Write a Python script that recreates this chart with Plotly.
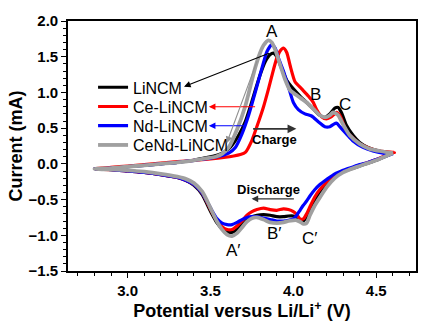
import plotly.graph_objects as go

# ---------------- data ----------------
series_names = ["LiNCM", "Ce-LiNCM", "Nd-LiNCM", "CeNd-LiNCM"]
series_colors = ["#000000", "#ff0000", "#0000ff", "#a0a0a0"]

# charge (anodic) branches
black_up_x = [2.80, 2.90, 3.00, 3.10, 3.20, 3.30, 3.40, 3.46, 3.52, 3.56, 3.60, 3.63, 3.67, 3.71, 3.74, 3.77,
              3.80, 3.83, 3.86, 3.88, 3.90, 3.93, 3.96, 4.00, 4.04, 4.08, 4.12, 4.16, 4.19, 4.22, 4.25, 4.27,
              4.29, 4.32, 4.36, 4.40, 4.45, 4.50, 4.55, 4.60]
black_up_y = [-0.07, -0.06, -0.04, -0.02, 0.00, 0.02, 0.05, 0.08, 0.11, 0.14, 0.19, 0.26, 0.40, 0.59, 0.80, 1.03,
              1.25, 1.43, 1.53, 1.55, 1.50, 1.33, 1.17, 1.05, 0.95, 0.86, 0.77, 0.68, 0.65, 0.70, 0.78, 0.79,
              0.72, 0.54, 0.40, 0.30, 0.23, 0.19, 0.16, 0.15]

red_up_x = [2.80, 2.90, 3.00, 3.10, 3.20, 3.30, 3.40, 3.50, 3.58, 3.64, 3.68, 3.71, 3.75, 3.79, 3.82, 3.85,
            3.88, 3.90, 3.92, 3.94, 3.96, 3.98, 4.01, 4.05, 4.09, 4.12, 4.14, 4.17, 4.20, 4.23, 4.26, 4.28,
            4.32, 4.36, 4.40, 4.46, 4.52, 4.56, 4.61]
red_up_y = [-0.07, -0.05, -0.03, -0.01, 0.01, 0.03, 0.05, 0.07, 0.09, 0.11, 0.13, 0.16, 0.33, 0.59, 0.80, 1.05,
            1.32, 1.48, 1.58, 1.62, 1.56, 1.38, 1.15, 1.05, 0.95, 0.86, 0.76, 0.66, 0.63, 0.66, 0.72, 0.68,
            0.46, 0.36, 0.28, 0.22, 0.18, 0.17, 0.16]

blue_up_x = [2.80, 2.90, 3.00, 3.10, 3.20, 3.30, 3.40, 3.50, 3.56, 3.61, 3.65, 3.69, 3.73, 3.76, 3.79, 3.82,
             3.84, 3.87, 3.89, 3.91, 3.94, 3.97, 4.00, 4.03, 4.07, 4.11, 4.15, 4.19, 4.22, 4.24, 4.26, 4.28,
             4.32, 4.36, 4.42, 4.48, 4.54, 4.60]
blue_up_y = [-0.07, -0.06, -0.04, -0.02, 0.00, 0.02, 0.05, 0.08, 0.11, 0.15, 0.23, 0.42, 0.68, 0.92, 1.17, 1.42,
             1.57, 1.67, 1.62, 1.48, 1.30, 1.08, 0.86, 0.76, 0.70, 0.67, 0.59, 0.52, 0.52, 0.55, 0.57, 0.52,
             0.42, 0.32, 0.23, 0.18, 0.15, 0.14]

gray_up_x = [2.80, 2.90, 3.00, 3.10, 3.20, 3.30, 3.40, 3.48, 3.53, 3.57, 3.61, 3.66, 3.71, 3.74, 3.77, 3.80,
             3.82, 3.85, 3.87, 3.89, 3.92, 3.95, 3.98, 4.02, 4.05, 4.08, 4.12, 4.16, 4.19, 4.22, 4.24, 4.27,
             4.30, 4.34, 4.40, 4.46, 4.52, 4.60]
gray_up_y = [-0.07, -0.06, -0.04, -0.02, 0.00, 0.02, 0.05, 0.08, 0.10, 0.14, 0.23, 0.48, 0.81, 1.08, 1.35, 1.56,
             1.66, 1.73, 1.70, 1.60, 1.39, 1.18, 1.03, 0.96, 0.91, 0.86, 0.77, 0.68, 0.65, 0.68, 0.72, 0.68,
             0.55, 0.40, 0.28, 0.21, 0.18, 0.15]

# discharge (cathodic) branches, common potential grid
down_x = [4.60, 4.55, 4.50, 4.45, 4.40, 4.35, 4.30, 4.25, 4.20, 4.16, 4.13, 4.10, 4.08, 4.06, 4.04, 4.02,
          4.00, 3.97, 3.94, 3.90, 3.86, 3.82, 3.78, 3.75, 3.72, 3.69, 3.66, 3.63, 3.60, 3.57, 3.54, 3.51,
          3.48, 3.45, 3.40, 3.35, 3.30, 3.20, 3.10, 3.00, 2.90, 2.80]
black_down_y = [0.15, 0.10, 0.05, 0.01, -0.03, -0.07, -0.11, -0.17, -0.28, -0.39, -0.50, -0.64, -0.74, -0.80, -0.78, -0.75,
                -0.73, -0.73, -0.74, -0.74, -0.72, -0.71, -0.72, -0.74, -0.78, -0.85, -0.92, -0.96, -0.95, -0.91, -0.83, -0.71,
                -0.57, -0.43, -0.30, -0.23, -0.19, -0.15, -0.12, -0.10, -0.08, -0.07]
red_down_y = [0.16, 0.11, 0.06, 0.02, -0.02, -0.06, -0.10, -0.16, -0.26, -0.36, -0.46, -0.60, -0.70, -0.77, -0.77, -0.71,
              -0.67, -0.64, -0.63, -0.65, -0.64, -0.62, -0.64, -0.67, -0.72, -0.80, -0.87, -0.92, -0.92, -0.88, -0.80, -0.68,
              -0.54, -0.41, -0.29, -0.23, -0.19, -0.15, -0.12, -0.10, -0.08, -0.07]
blue_down_y = [0.14, 0.10, 0.06, 0.02, -0.01, -0.05, -0.09, -0.14, -0.22, -0.29, -0.36, -0.45, -0.52, -0.58, -0.65, -0.72,
               -0.77, -0.79, -0.80, -0.80, -0.78, -0.76, -0.74, -0.74, -0.75, -0.78, -0.82, -0.85, -0.85, -0.83, -0.77, -0.66,
               -0.53, -0.41, -0.29, -0.23, -0.19, -0.15, -0.12, -0.10, -0.08, -0.07]
gray_down_y = [0.15, 0.10, 0.05, 0.01, -0.03, -0.07, -0.12, -0.20, -0.33, -0.47, -0.58, -0.72, -0.83, -0.84, -0.81, -0.79,
               -0.79, -0.80, -0.82, -0.83, -0.82, -0.78, -0.75, -0.76, -0.81, -0.89, -0.97, -1.01, -0.99, -0.92, -0.81, -0.67,
               -0.52, -0.39, -0.27, -0.21, -0.18, -0.14, -0.11, -0.09, -0.08, -0.07]

peak_labels = ["A", "B", "C", "A\u2032", "B\u2032", "C\u2032"]
peak_x = [3.87, 4.135, 4.31, 3.64, 3.885, 4.10]
peak_y = [1.85, 0.97, 0.83, -1.21, -0.98, -1.04]

x_range = [2.64, 4.74]
y_range = [-1.5, 2.0]

# ---------------- figure ----------------
FONT = "Liberation Sans, Arial, sans-serif"
fig = go.Figure()

ups = [(black_up_x, black_up_y), (red_up_x, red_up_y), (blue_up_x, blue_up_y), (gray_up_x, gray_up_y)]
downs = [black_down_y, red_down_y, blue_down_y, gray_down_y]
widths = [3.2, 3.2, 3.2, 3.8]
legend_ids = ["legend", "legend2", "legend3", "legend4"]
for name, col, (ux, uy), dy, w, lg in zip(series_names, series_colors, ups, downs, widths, legend_ids):
    fig.add_trace(go.Scatter(x=ux + down_x, y=uy + dy, mode="lines", name=name, legend=lg,
                             line=dict(color=col, width=w, shape="spline", smoothing=0.6)))

annotations = []
for t, px, py in zip(peak_labels, peak_x, peak_y):
    annotations.append(dict(x=px, y=py, xref="x", yref="y", text=t, showarrow=False,
                            font=dict(family=FONT, size=17, color="#000")))

# arrows from curves to legend labels
arrow_specs = [
    # (head_x, head_y, tail_x, tail_y, color)
    (3.34, 1.08, 3.862, 1.556, "#000000"),
    (3.49, 0.80, 3.778, 0.80, "#ff0000"),
    (3.49, 0.533, 3.712, 0.533, "#0000ff"),
    (3.598, 0.29, 3.784, 1.46, "#909090"),
]
for hx, hy, tx, ty, c in arrow_specs:
    annotations.append(dict(x=hx, y=hy, ax=tx, ay=ty, xref="x", yref="y", axref="x", ayref="y",
                            text="", showarrow=True, arrowhead=2, arrowsize=1.2, arrowwidth=1.1, arrowcolor=c))

# Charge / Discharge
annotations.append(dict(x=4.018, y=0.49, ax=3.748, ay=0.49, xref="x", yref="y", axref="x", ayref="y",
                        text="", showarrow=True, arrowhead=2, arrowsize=1.1, arrowwidth=1.6, arrowcolor="#333"))
annotations.append(dict(x=3.886, y=0.345, xref="x", yref="y", text="<b>Charge</b>", showarrow=False,
                        font=dict(family=FONT, size=13, color="#000")))
annotations.append(dict(x=3.748, y=-0.49, ax=4.012, ay=-0.49, xref="x", yref="y", axref="x", ayref="y",
                        text="", showarrow=True, arrowhead=2, arrowsize=1.1, arrowwidth=1.2, arrowcolor="#333"))
annotations.append(dict(x=3.85, y=-0.355, xref="x", yref="y", text="<b>Discharge</b>", showarrow=False,
                        font=dict(family=FONT, size=13, color="#000")))

axis_common = dict(showline=True, linecolor="#000", linewidth=1.6, mirror=True, ticks="outside",
                   ticklen=5, tickwidth=1.3, tickcolor="#000", showgrid=False, zeroline=False,
                   tickfont=dict(family=FONT, size=15, color="#000", weight="bold"))

legend_rows = [0.7346, 0.6577, 0.5808, 0.5038]
legend_layout = {}
for lg, ly in zip(legend_ids, legend_rows):
    legend_layout[lg] = dict(x=0.072, y=ly, xanchor="left", yanchor="middle", bgcolor="rgba(0,0,0,0)",
                             font=dict(family=FONT, size=16, color="#000"))

fig.update_layout(
    width=430, height=329,
    margin=dict(l=68, r=12, t=15, b=54),
    paper_bgcolor="white", plot_bgcolor="white",
    font=dict(family=FONT, color="#000"),
    xaxis=dict(range=x_range, dtick=0.5, tick0=0, tickformat=".1f",
               minor=dict(dtick=0.1, ticks="outside", ticklen=3, tickcolor="#000", tickwidth=1),
               title=dict(text="<b>Potential versus Li/Li<sup>+</sup> (V)</b>",
                          font=dict(family=FONT, size=18, color="#000"), standoff=6),
               **axis_common),
    yaxis=dict(range=y_range, dtick=0.5, tick0=0, tickformat=".1f",
               minor=dict(dtick=0.1, ticks="outside", ticklen=3, tickcolor="#000", tickwidth=1),
               title=dict(text="<b>Current (mA)</b>",
                          font=dict(family=FONT, size=18, color="#000"), standoff=1),
               **axis_common),
    annotations=annotations,
    showlegend=True,
    **legend_layout,
)

fig.write_html("out.html")
